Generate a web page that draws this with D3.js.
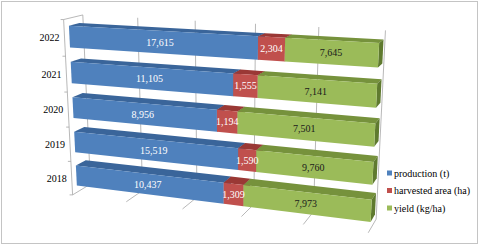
<!DOCTYPE html>
<html>
<head>
<meta charset="utf-8">
<script src="https://cdn.jsdelivr.net/npm/d3@7"></script>
<style>
  body { margin: 0; background: #fff; }
  text { font-family: "Liberation Serif", "Times New Roman", serif; }
</style>
</head>
<body>
<div id="container"></div>
<script>

var years = ["2018", "2019", "2020", "2021", "2022"];

var production = [10437, 15519, 8956, 11105, 17615];

var harvestedArea = [1309, 1590, 1194, 1555, 2304];

var yieldKgHa = [7973, 9760, 7501, 7141, 7645];

var seriesNames = ["production (t)", "harvested area (ha)", "yield (kg/ha)"];

var valueTicks = [0, 0.2, 0.4, 0.6, 0.8, 1];

var W = 480, H = 247;

//  colours: front face, top face, side face, label
var colors = [
    {front: "#4f81bd", top: "#3a659a", side: "#2f5583", label: "#fff"},
    {front: "#c0504d", top: "#9a3835", side: "#7f2e2b", label: "#fff"},
    {front: "#9bbb59", top: "#76923c", side: "#5f7a2f", label: "#1a1a1a"}
];

//  bar depth inside the box (0 = front, 1 = back)
var depthFront = 0.25, depthBack = 0.8;

//  where the 3d box lands on screen: [value, vertical, depth] -> [x, y]
var anchors = [
    [[0, 0, 0], [72, 193]], [[1, 0, 0], [368, 233]], [[0, 1, 0], [63, 20]],
    [[0, 0, 1], [90, 183]], [[1, 0, 1], [375, 219]], [[0, 1, 1], [83, 16]], [[1, 1, 1], [385, 30]],
    [[0.2, 0, 0], [127, 202]], [[0.2, 0, 1], [142, 192]], [[0.2, 1, 1], [138, 18]],
    [[0.4, 0, 0], [183, 209]], [[0.4, 0, 1], [198, 198]], [[0.4, 1, 1], [195, 20]],
    [[0.6, 0, 0], [242, 217]], [[0.6, 0, 1], [253, 204]], [[0.6, 1, 1], [256, 23]],
    [[0.8, 0, 0], [303, 225]], [[0.8, 0, 1], [315, 211]], [[0.8, 1, 1], [319, 27]]
];

//  fit a perspective camera (DLT, least squares)
function solve(A, b) {
    var n = b.length;
    for (var i = 0; i < n; i++) {
        var p = i;
        for (var r = i + 1; r < n; r++) if (Math.abs(A[r][i]) > Math.abs(A[p][i])) p = r;
        var t = A[i]; A[i] = A[p]; A[p] = t;
        var tb = b[i]; b[i] = b[p]; b[p] = tb;
        for (var r = i + 1; r < n; r++) {
            var f = A[r][i] / A[i][i];
            for (var c = i; c < n; c++) A[r][c] -= f * A[i][c];
            b[r] -= f * b[i];
        }
    }
    var x = new Array(n).fill(0);
    for (var i = n - 1; i >= 0; i--) {
        var s = b[i];
        for (var c = i + 1; c < n; c++) s -= A[i][c] * x[c];
        x[i] = s / A[i][i];
    }
    return x;
}

var rows = [], rhs = [];
anchors.forEach(function(a) {
    var X = a[0][0], Y = a[0][1], Z = a[0][2], x = a[1][0], y = a[1][1];
    rows.push([X, Y, Z, 1, 0, 0, 0, 0, -x * X, -x * Y, -x * Z]); rhs.push(x);
    rows.push([0, 0, 0, 0, X, Y, Z, 1, -y * X, -y * Y, -y * Z]); rhs.push(y);
});
var AtA = [], Atb = [];
for (var i = 0; i < 11; i++) {
    AtA.push(new Array(11).fill(0)); Atb.push(0);
    for (var k = 0; k < rows.length; k++) {
        Atb[i] += rows[k][i] * rhs[k];
        for (var j = 0; j < 11; j++) AtA[i][j] += rows[k][i] * rows[k][j];
    }
}
var P = solve(AtA, Atb);

function project(u, v, w) {
    var d = P[8] * u + P[9] * v + P[10] * w + 1;
    return [(P[0] * u + P[1] * v + P[2] * w + P[3]) / d,
            (P[4] * u + P[5] * v + P[6] * w + P[7]) / d];
}

function poly(pts) {
    return "M" + pts.map(function(p) { return project(p[0], p[1], p[2]).join(","); }).join("L") + "Z";
}

//  scales
var x = d3.scaleLinear().domain([0, 1]).range([0, 1]);

var y = d3.scaleBand()
    .domain(years)
    .range([0, 1])
    .paddingInner(0.4)
    .paddingOuter(0.2);

var data = years.map(function(yr, i) {
    return {year: yr, s0: production[i], s1: harvestedArea[i], s2: yieldKgHa[i]};
});

var stacked = d3.stack().keys(["s0", "s1", "s2"]).offset(d3.stackOffsetExpand)(data);

var svg = d3.select("#container")
    .append("svg")
    .attr("width", W)
    .attr("height", H);

svg.append("rect")
    .attr("x", 1.5).attr("y", 1.5)
    .attr("width", W - 4).attr("height", H - 5)
    .attr("fill", "#fff")
    .attr("stroke", "#c4c4c4");

var grid = svg.append("g")
    .attr("stroke", "#a6a6a6")
    .attr("fill", "none")
    .attr("stroke-width", 0.8);

//  left wall edges
grid.append("path").attr("d", "M" + project(0, 0, 0) + "L" + project(0, 1, 0) + "L" + project(0, 1, 1));

//  floor + back wall gridlines
valueTicks.forEach(function(t) {
    grid.append("path")
        .attr("d", "M" + project(x(t), 0, 0) + "L" + project(x(t), 0, 1) + "L" + project(x(t), 1, 1));
});

//  category ticks
d3.range(0, 6).forEach(function(k) {
    var v = k / 5;
    var p = project(0, v, 0);
    grid.append("line")
        .attr("x1", p[0] - 3).attr("y1", p[1])
        .attr("x2", p[0]).attr("y2", p[1]);
});

//  category labels
svg.selectAll(".year")
    .data(years)
    .enter()
    .append("text")
    .attr("class", "year")
    .attr("x", function(d) { return project(0, y(d) + y.bandwidth() / 2, 0)[0] - 5; })
    .attr("y", function(d) { return project(0, y(d) + y.bandwidth() / 2, 0)[1]; })
    .attr("dy", "0.35em")
    .attr("text-anchor", "end")
    .attr("font-size", "10px")
    .attr("fill", "#000")
    .text(function(d) { return d; });

//  bars, top row first so lower rows sit in front
var bars = svg.append("g");

years.slice().reverse().forEach(function(yr) {
    var i = years.indexOf(yr);
    var v0 = y(yr), v1 = y(yr) + y.bandwidth();

    stacked.forEach(function(s, si) {
        var u0 = x(s[i][0]), u1 = x(s[i][1]);
        var c = colors[si];

        bars.append("path")
            .attr("d", poly([[u0, v1, depthFront], [u1, v1, depthFront], [u1, v1, depthBack], [u0, v1, depthBack]]))
            .attr("fill", c.top);

        bars.append("path")
            .attr("d", poly([[u1, v0, depthFront], [u1, v1, depthFront], [u1, v1, depthBack], [u1, v0, depthBack]]))
            .attr("fill", c.side);

        bars.append("path")
            .attr("d", poly([[u0, v0, depthFront], [u1, v0, depthFront], [u1, v1, depthFront], [u0, v1, depthFront]]))
            .attr("fill", c.front);
    });

    stacked.forEach(function(s, si) {
        var val = s[i].data["s" + si];
        var p = project((x(s[i][0]) + x(s[i][1])) / 2, (v0 + v1) / 2, depthFront);
        bars.append("text")
            .attr("x", p[0])
            .attr("y", p[1])
            .attr("dy", "0.35em")
            .attr("text-anchor", "middle")
            .attr("font-size", "10px")
            .attr("fill", colors[si].label)
            .text(d3.format(",")(val));
    });
});

//  legend
var legend = svg.append("g")
    .attr("transform", "translate(387,173)");

seriesNames.forEach(function(name, i) {
    var g = legend.append("g").attr("transform", "translate(0," + (i * 17.5) + ")");
    g.append("rect")
        .attr("x", 0).attr("y", -2.5)
        .attr("width", 5).attr("height", 5)
        .attr("fill", colors[i].front);
    g.append("text")
        .attr("x", 7)
        .attr("y", 0)
        .attr("dy", "0.35em")
        .attr("font-size", "10px")
        .attr("fill", "#000")
        .text(name);
});

</script>
</body>
</html>
